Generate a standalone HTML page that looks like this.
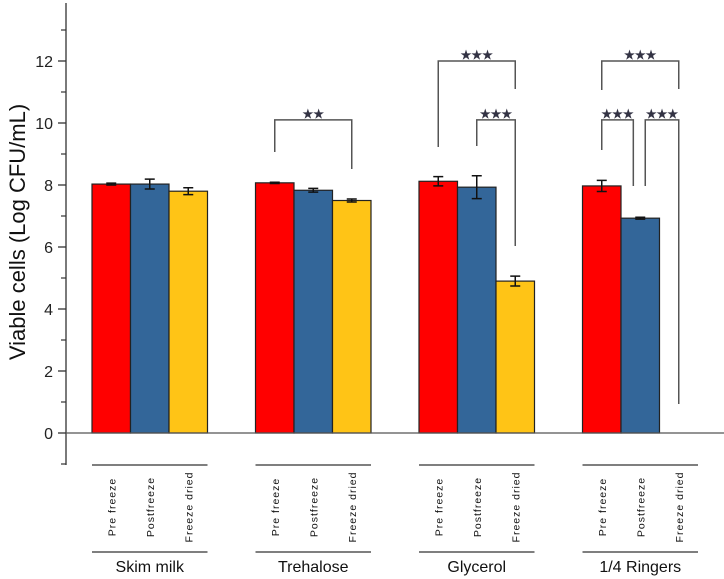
<!DOCTYPE html>
<html><head><meta charset="utf-8"><style>
html,body{margin:0;padding:0;background:#fff;}
svg{display:block;font-family:"Liberation Sans",sans-serif;}
</style></head><body>
<svg id="chart" width="724" height="579" viewBox="0 0 724 579" xmlns="http://www.w3.org/2000/svg"></svg>
<script>
const groups = ["Skim milk","Trehalose","Glycerol","1/4 Ringers"];
const conditions = ["Pre freeze","Postfreeze","Freeze dried"];
const preFreeze = [8.03, 8.07, 8.12, 7.97];
const postFreeze = [8.03, 7.83, 7.93, 6.93];
const freezeDried = [7.80, 7.50, 4.90, 0];
const preErr = [0.03, 0.02, 0.15, 0.18];
const postErr = [0.16, 0.06, 0.37, 0.03];
const driedErr = [0.11, 0.05, 0.16, 0];
const yTicks = [0,2,4,6,8,10,12];
const yMinor = [-1,1,3,5,7,9,11,13];
const yTitle = "Viable cells (Log CFU/mL)";

const svg = document.getElementById('chart');
const NS = "http://www.w3.org/2000/svg";
const y = v => 433 - v*31;
const groupStart = g => 92 + g*163.5;
const BW = 38.5;
const barX = (g,k) => groupStart(g) + k*BW;
const barC = (g,k) => barX(g,k) + BW/2;
function mk(tag, attrs, parent){ const e=document.createElementNS(NS,tag); for(const k in attrs) e.setAttribute(k,attrs[k]); (parent||svg).appendChild(e); return e; }

const ax = mk('line',{x1:66,y1:3,x2:66,y2:465,stroke:'#333','stroke-width':1.3});
 
yTicks.forEach(t=>{
  const tk = mk('line',{x1:58,x2:66,y1:y(t),y2:y(t),stroke:'#333','stroke-width':1.3});
   
  const tl = mk('text',{x:53,y:y(t)+6,'text-anchor':'end','font-size':16,fill:'#222'});
  tl.textContent = t;
   
});
yMinor.forEach(t=>{
  const tk = mk('line',{x1:61,x2:66,y1:y(t),y2:y(t),stroke:'#333','stroke-width':1.2});
   
});
const tt = mk('text',{x:0,y:0,'text-anchor':'middle','font-size':22,fill:'#111',transform:'translate(25,232) rotate(-90)'});
tt.textContent = yTitle;
 

const series = [[preFreeze,preErr,'#ff0000'],[postFreeze,postErr,'#336699'],[freezeDried,driedErr,'#ffc416']];
groups.forEach((gname,g)=>{
  series.forEach(([vals,errs,col],k)=>{
    const v = vals[g];
    if(v>0){
      const r = mk('rect',{x:barX(g,k),y:y(v),width:BW,height:y(0)-y(v),fill:col,stroke:'#222','stroke-width':1.2});
       
      const c = barC(g,k), e = errs[g];
      const eb = mk('path',{d:`M${c},${y(v+e)}V${y(v-e)}M${c-5},${y(v+e)}H${c+5}M${c-5},${y(v-e)}H${c+5}`,stroke:'#111','stroke-width':1.5,fill:'none'});
       
    }
  });
  const x0 = groupStart(g), x1 = x0+3*BW;
  const l1 = mk('line',{x1:x0,x2:x1,y1:465,y2:465,stroke:'#333','stroke-width':1.3});
   
  const l2 = mk('line',{x1:x0,x2:x1,y1:552,y2:552,stroke:'#333','stroke-width':1.3});
   
  conditions.forEach((c,k)=>{
    const t = mk('text',{x:0,y:0,'text-anchor':'middle','font-size':10.5,'letter-spacing':1,fill:'#111',transform:`translate(${barC(g,k)+4},507) rotate(-90)`});
    t.textContent = c;
     
  });
  const gl = mk('text',{x:(x0+x1)/2,y:572,'text-anchor':'middle','font-size':16,fill:'#111'});
  gl.textContent = gname;
   
});
const zl = mk('line',{x1:66,x2:724,y1:y(0),y2:y(0),stroke:'#555','stroke-width':1.3});
 

// [group, k1, k2 (bar offsets from first bar centre), topValue, leftBottomPx, rightBottomPx, stars]
const brackets = [
  [1,0,2,10.1,152,169,'**'],
  [2,0,2,12,147,89,'***'],
  [2,1,2,10.1,146,246,'***'],
  [3,0,2,12,90,89,'***'],
  [3,0,0.82,10.1,150,186,'***'],
  [3,1.13,2,10.1,186,404,'***']
];
brackets.forEach(([g,k1,k2,top,lb,rb,s])=>{
  const xa = barC(g,0)+k1*BW, xb = barC(g,0)+k2*BW;
  const ty = y(top);
  const p = mk('path',{d:`M${xa},${lb}V${ty}H${xb}V${rb}`,stroke:'#555','stroke-width':1.5,fill:'none'});
   
  const t = mk('text',{x:(xa+xb)/2,y:ty-2,'text-anchor':'middle','font-size':12,'font-weight':'bold',fill:'#334'});
  t.textContent = s.replace(/\*/g,'★');
   
});
</script>
</body></html>
